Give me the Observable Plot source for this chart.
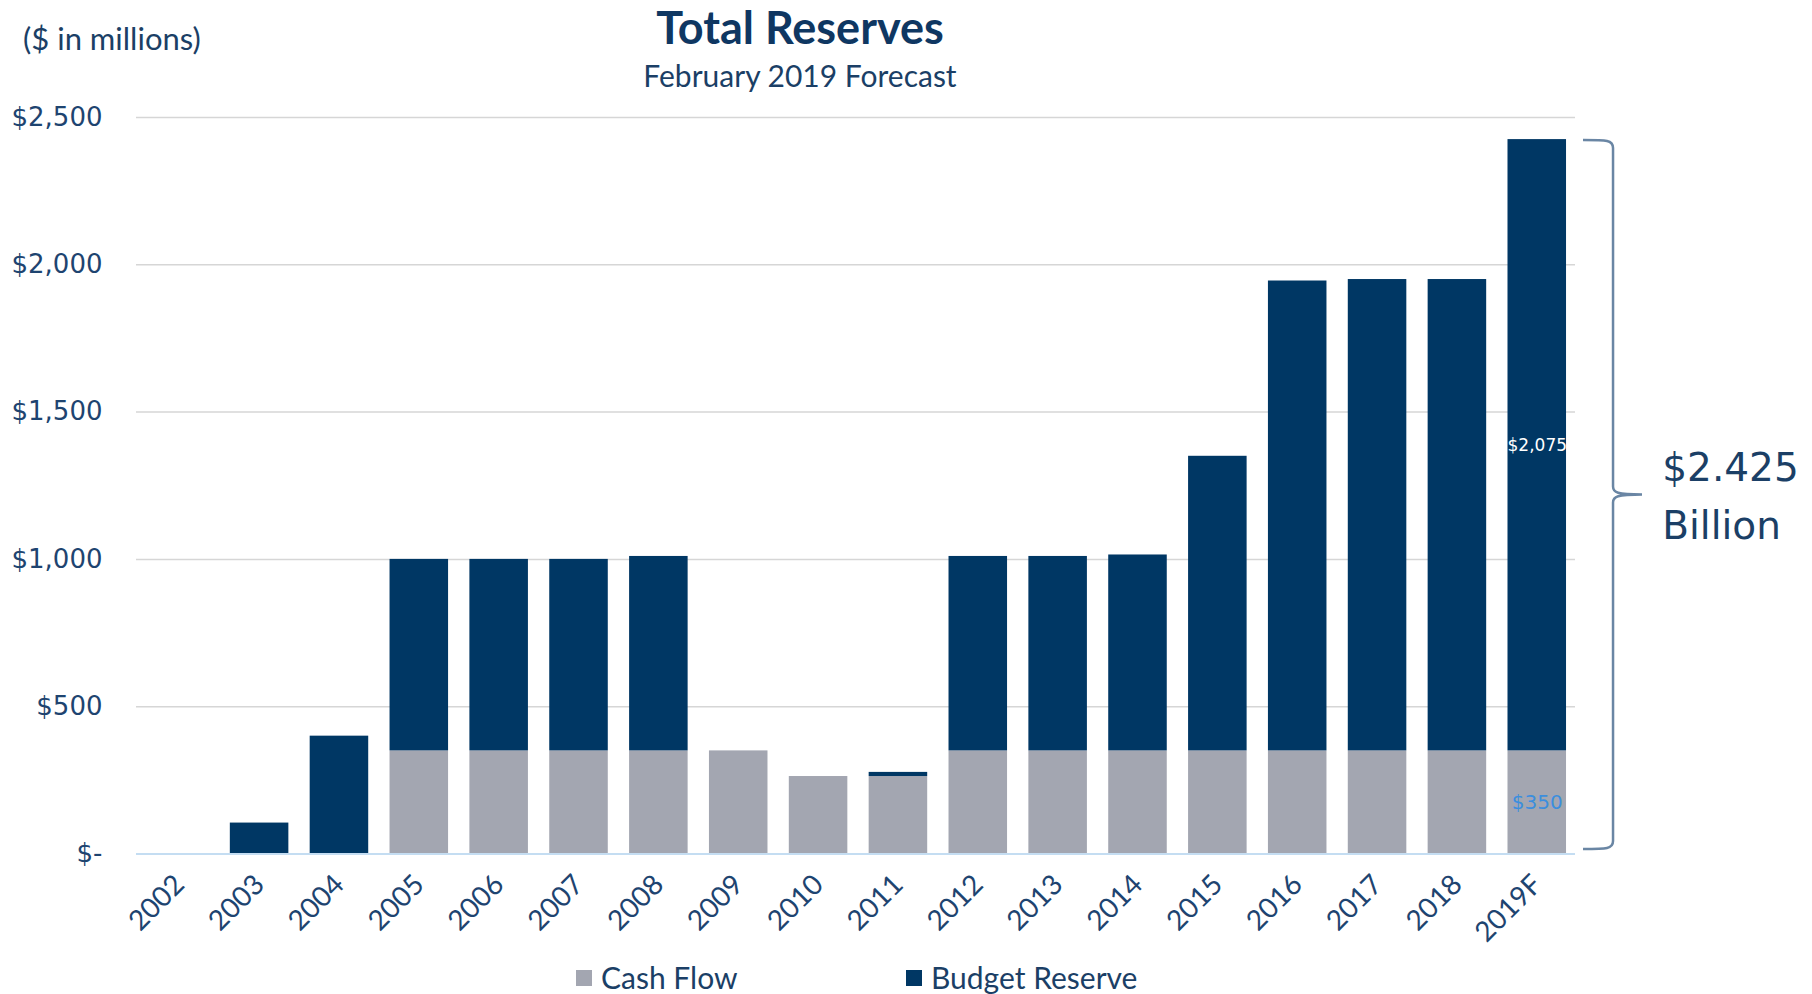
<!DOCTYPE html>
<html><head><meta charset="utf-8">
<script src="https://cdn.jsdelivr.net/npm/d3@7"></script>
<script src="https://cdn.jsdelivr.net/npm/@observablehq/plot@0.6"></script>
<style>
html,body{margin:0;padding:0;background:#fff;}
#wrap{position:relative;width:1812px;height:994px;overflow:hidden;font-family:Lato,sans-serif;}
.abs{position:absolute;line-height:1;white-space:nowrap;}
#title{left:800px;top:4.6px;transform:translateX(-50%);font-size:45px;font-weight:bold;color:#0f3762;}
#subtitle{left:800px;top:60px;transform:translateX(-50%);font-size:30px;color:#1b3f66;}
#units{left:23px;top:23px;font-size:31px;color:#1b3f66;}
.leg{position:absolute;top:962px;font-size:30px;line-height:1;color:#1b3f66;white-space:nowrap;}
.sw{position:absolute;width:16px;height:16px;top:970px;}
#chart svg{position:absolute;left:0;top:0;}
g[aria-label="x-axis tick label"] text{font-family:Lato,sans-serif;font-size:28px;}
g[aria-label="y-axis tick label"] text{font-family:"DejaVu Sans",sans-serif;font-size:26px;}
</style></head><body>
<div id="wrap">
  <div id="chart"></div>
  <div class="abs" id="units">($ in millions)</div>
  <div class="abs" id="title">Total Reserves</div>
  <div class="abs" id="subtitle">February 2019 Forecast</div>
  <div id="legend"></div>
</div>
<script>
const years = ["2002","2003","2004","2005","2006","2007","2008","2009","2010","2011","2012","2013","2014","2015","2016","2017","2018","2019F"];
const cashFlow =      [0,   0,   0, 350, 350, 350, 350, 350, 263, 263, 350, 350, 350, 350, 350, 350, 350, 350];
const budgetReserve = [0, 105, 400, 650, 650, 650, 660,   0,   0,  14, 660, 660, 665,1000,1595,1600,1600,2075];
const seriesNames = ["Cash Flow", "Budget Reserve"];
const seriesColors = ["#a3a6b1", "#003764"];
const yTicks = [0, 500, 1000, 1500, 2000, 2500];

const rows = [];
years.forEach((yr, i) => rows.push({year: yr, series: seriesNames[0], value: cashFlow[i]}));
years.forEach((yr, i) => rows.push({year: yr, series: seriesNames[1], value: budgetReserve[i]}));

const last = years.length - 1;
const lastYear = years[last];
const total = cashFlow[last] + budgetReserve[last];
const fmt = d3.format(",");

const segLabels = [
  {year: lastYear, y: cashFlow[last] + budgetReserve[last] / 2, text: "$" + fmt(budgetReserve[last]), color: "#ffffff", size: 17},
  {year: lastYear, y: cashFlow[last] / 2, text: "$" + fmt(cashFlow[last]), color: "#3b8ede", size: 20}
];

function brace(index, scales) {
  const x = scales.x, y = scales.y;
  const bx = x(lastYear) + x.bandwidth();
  const yt = y(total) + 1, yb = y(0) - 4.5, ym = (yt + yb) / 2;
  const x0 = bx + 17, x1 = bx + 47, x2 = bx + 76;
  const d = `M${x0},${yt} C${x1 - 6},${yt} ${x1},${yt} ${x1},${yt + 8}` +
    ` L${x1},${ym - 8} C${x1},${ym - 2} ${x1 + 4},${ym} ${x2},${ym}` +
    ` C${x1 + 4},${ym} ${x1},${ym + 2} ${x1},${ym + 8}` +
    ` L${x1},${yb - 8} C${x1},${yb} ${x1 - 6},${yb} ${x0},${yb}`;
  return d3.create("svg:path").attr("d", d).attr("fill", "none")
    .attr("stroke", "#6a86a4").attr("stroke-width", 2.5).node();
}

const plot = Plot.plot({
  width: 1812,
  height: 994,
  marginTop: 117,
  marginBottom: 140.5,
  marginLeft: 136,
  marginRight: 237,
  style: {color: "#1e4470", background: "transparent", overflow: "visible"},
  x: {type: "band", domain: years, range: [134, 1582], paddingInner: 0.267, paddingOuter: 0.2, round: false, label: null},
  y: {domain: [0, 2500], label: null},
  color: {domain: seriesNames, range: seriesColors},
  marks: [
    Plot.ruleY(yTicks.filter(d => d > 0), {stroke: "#d6d6d6", strokeWidth: 1.5}),
    Plot.barY(rows, {x: "year", y: "value", fill: "series", order: seriesNames}),
    Plot.ruleY([0], {stroke: "#c4ddf2", strokeWidth: 2}),
    Plot.axisY({ticks: yTicks, tickSize: 0, tickPadding: 34, tickFormat: d => d === 0 ? "$-" : "$" + fmt(d), fontSize: 26}),
    Plot.axisX({tickRotate: -45, tickSize: 0, tickPadding: 26, fontSize: 28}),
    Plot.text(segLabels, {x: "year", y: "y", text: "text", fill: "color", fontSize: "size", fontFamily: "DejaVu Sans"}),
    Plot.text([{year: lastYear, y: total / 2, text: "$" + (total / 1000).toFixed(3) + "\nBillion"}],
      {x: "year", y: "y", text: "text", dx: 125, dy: -5, textAnchor: "start", lineAnchor: "middle", lineHeight: 1.49,
       fontSize: 39, fontFamily: "DejaVu Sans", fill: "#1b3f66"}),
    brace
  ]
});
document.getElementById("chart").appendChild(plot);

const legend = document.getElementById("legend");
const legX = [576, 906];
seriesNames.forEach((name, i) => {
  const sw = document.createElement("div");
  sw.className = "sw"; sw.style.left = legX[i] + "px"; sw.style.background = seriesColors[i];
  legend.appendChild(sw);
  const t = document.createElement("div");
  t.className = "leg"; t.style.left = (legX[i] + 25) + "px"; t.textContent = name;
  legend.appendChild(t);
});
</script>
</body></html>
